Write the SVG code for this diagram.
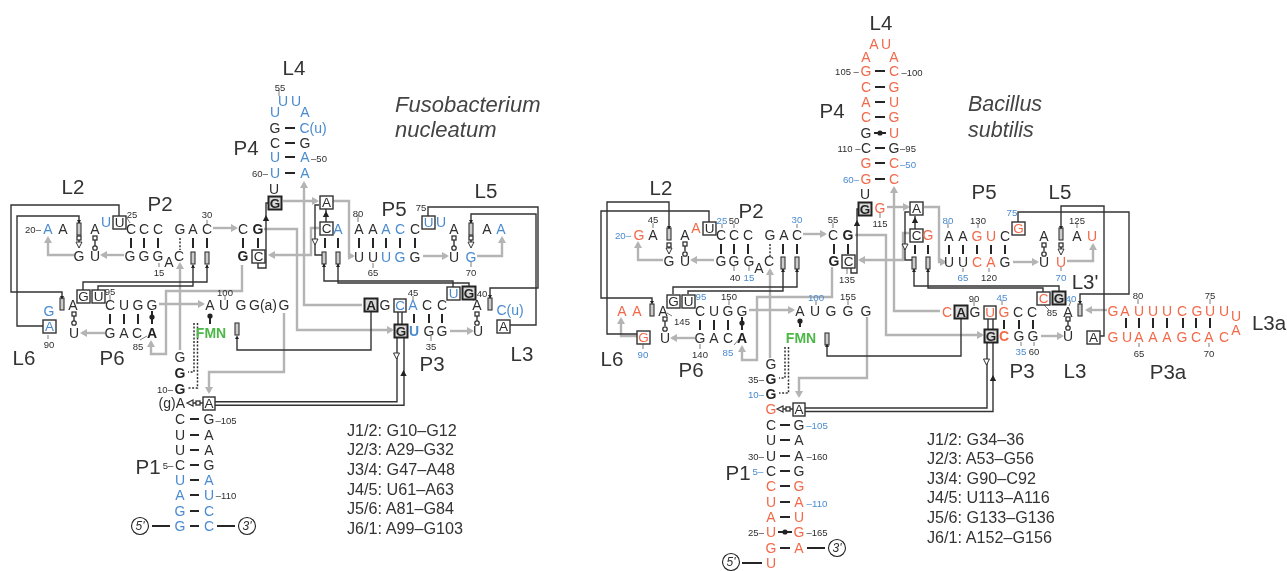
<svg xmlns="http://www.w3.org/2000/svg" width="1287" height="571" viewBox="0 0 1287 571">
<style>
text{font-family:"Liberation Sans",Arial,sans-serif;text-anchor:middle;dominant-baseline:central;fill:#2e2e2e;font-size:14px}
.b{fill:#4a8bd0}.r{fill:#f2694a}.bd{font-weight:bold;fill:#222}
.n{font-size:9.5px}.nb{font-size:9.7px;fill:#4a8bd0}
.L{font-size:20.5px;fill:#333}
.sp{font-size:21.5px;font-style:italic;text-anchor:start;fill:#444}
.j{font-size:16.2px;text-anchor:start;fill:#333}
.f{font-size:14px;font-weight:bold;fill:#4cb848}
.ga{fill:none;stroke:#b4b4b4;stroke-width:2.4;marker-end:url(#ga)}
.k{fill:none;stroke:#333;stroke-width:1.4}
.bp{fill:none;stroke:#262626;stroke-width:2}
.tk{fill:none;stroke:#444;stroke-width:.7}
.dt{fill:none;stroke:#333;stroke-width:1.5;stroke-dasharray:2 1.6}
.bx{fill:#fff;stroke:#333;stroke-width:1.4}
.bb{fill:#d9d9d9;stroke:#222;stroke-width:2}
.bx+text,.bb+text{font-size:13.5px}
.rc{fill:#ccc;stroke:#333;stroke-width:1.1}
.c5{fill:#fff;stroke:#222;stroke-width:1.1}
.c5t{font-size:12px;font-style:italic}
</style>
<defs>
<filter id="soft" filterUnits="userSpaceOnUse" x="0" y="0" width="1287" height="571" color-interpolation-filters="sRGB"><feGaussianBlur stdDeviation="0.3"/></filter>
<marker id="ga" markerUnits="userSpaceOnUse" markerWidth="9" markerHeight="9" refX="5" refY="4" orient="auto"><path d="M0,0L7,4L0,8z" fill="#b4b4b4"/></marker>
<path id="tf" d="M-3.2,3L0,-3L3.2,3z" fill="#222"/>
<path id="to" d="M-3,-3L3,-3L0,3z" fill="#fff" stroke="#333" stroke-width="1"/>
<path id="tl" d="M3,-3L3,3L-3,0z" fill="#fff" stroke="#333" stroke-width="1.2"/>
<path id="sd" d="M-2,-2L2,-2L0,1.6z" fill="#222"/>
<path id="su" d="M-2,2L2,2L0,-1.6z" fill="#222"/>
<rect id="sq" x="-2" y="-2" width="4" height="4" fill="#fff" stroke="#333" stroke-width="1.3"/>
<circle id="ci" r="2.2" fill="#fff" stroke="#333" stroke-width="1.3"/>
<circle id="do" r="2.6" fill="#222"/>
<rect id="bar" x="-2" y="-6" width="4" height="12" class="rc"/>
</defs>
<g filter="url(#soft)">
<rect width="1287" height="571" fill="#fff"/>
<g id="connectors">
<g id="connectors-fusobacterium">
<path class="ga" d="M75,255H48V238"/><path class="ga" d="M124,255H102"/><path class="ga" d="M213,228H236"/><path class="ga" d="M159,304H203"/><path class="ga" d="M105,333H82"/>
<path class="ga" d="M242,265V291H166V354H151V342"/><path class="ga" d="M180,350V264"/><path class="ga" d="M284,313V372H209V392"/>
<path class="ga" d="M283,201H317"/><path class="ga" d="M333,201H349V256H353"/><path class="ga" d="M264,229H297V330H392"/><path class="ga" d="M319,228H311V255H270"/><path class="ga" d="M362,305H304V183"/>
<path class="ga" d="M423,256H447"/><path class="ga" d="M477,256H502V238"/><path class="ga" d="M450,331H472"/>
<path class="k" d="M119,216V205H11V292H62V300"/><path class="k" d="M43,326H17V216H79V223"/><path class="k" d="M83,290V282H207V265"/><path class="k" d="M98,290V286H193V265"/>
<path class="k" d="M258,263V268H266V203H269"/><path class="k" d="M326,222V209"/><path class="k" d="M319,205H315V255H324"/>
<path class="k" d="M324,263V281H453V287"/><path class="k" d="M338,263V283H469V287"/><path class="k" d="M428,216V207H538V288H490V298"/><path class="k" d="M510,325H536V214H471V223"/>
<path class="k" d="M237,337V350H371V312"/><path class="k" d="M215,401.7H397V338"/><path class="k" d="M215,405.3H404V338"/>
<path class="k" d="M398,312V324M402,312V324"/>
<path class="k" d="M203,403H190M79,240V244M95,240V246M454,240V246M471,240V244M477,316V321M74,316V321"/>
<path class="dt" d="M194,323V372H188"/><path class="dt" d="M197.5,323V388H188"/><path class="dt" d="M180,238V250"/>
<path class="bp" d="M131,238V248M144,238V248M158,238V248M193,238V248M207,238V248M243,238V248M258,238V248M325,238V248M338,238V248M359,238V248M373,238V248M386,238V248M400,238V248M415,238V248M414,314V323M429,314V323M442,314V323M110,314V324M124,314V324M138,314V324"/>
<path class="bp" d="M285,128H295M285,143H295M285,157H295M285,173H295M190,419H199"/>
<path class="bp" d="M190,435H199M190,450H199M190,465H199M190,480H199M190,495H199M190,511H199M190,526H199"/>
<path class="bp" d="M152,311V324M210,316V324"/>
<path class="bp" d="M152,526H170M217,526H235"/>
<use href="#do" x="152" y="317"/><use href="#do" x="210" y="316"/>
<use href="#sq" x="79" y="238"/><use href="#to" x="79" y="245"/><use href="#sq" x="95" y="238"/><use href="#ci" x="95" y="248"/>
<use href="#sq" x="454" y="238"/><use href="#ci" x="454" y="248"/><use href="#sq" x="471" y="238"/><use href="#to" x="471" y="245"/>
<use href="#sq" x="477" y="314"/><use href="#ci" x="477" y="323"/><use href="#sq" x="74" y="314"/><use href="#ci" x="74" y="323"/>
<use href="#sq" x="198" y="403"/><use href="#tl" x="190" y="403"/>
<use href="#tf" x="266" y="218"/><use href="#tf" x="326" y="214"/><use href="#to" x="315" y="242"/>
<use href="#to" x="396.5" y="356"/><use href="#tf" x="403.5" y="373"/>
<use href="#bar" x="79" y="229"/><use href="#bar" x="193" y="258"/><use href="#bar" x="207" y="258"/><use href="#bar" x="62" y="304"/><use href="#bar" x="237" y="329"/><use href="#bar" x="324" y="258"/><use href="#bar" x="338" y="258"/><use href="#bar" x="471" y="229"/><use href="#bar" x="490" y="304"/>
<use href="#sd" x="79" y="222"/><use href="#sd" x="62" y="298"/><use href="#su" x="193" y="266"/><use href="#su" x="207" y="266"/><use href="#su" x="237" y="337"/><use href="#su" x="324" y="265"/><use href="#su" x="338" y="265"/><use href="#sd" x="471" y="222"/><use href="#sd" x="490" y="297"/>
</g>
<g id="connectors-bacillus">
<path class="ga" d="M663,260H638V243"/><path class="ga" d="M714,260H692"/><path class="ga" d="M803,234H825"/><path class="ga" d="M749,310H793"/><path class="ga" d="M695,338H672"/><path class="ga" d="M637,336H621V319"/>
<path class="ga" d="M832,267V297H757V360H742V347"/><path class="ga" d="M770,358V270"/><path class="ga" d="M867,317V378H799V396"/>
<path class="ga" d="M887,207H908"/><path class="ga" d="M924,207H939V262H945"/><path class="ga" d="M855,235H886V335H982"/><path class="ga" d="M909,233H903V260H860"/><path class="ga" d="M940,311H894V188"/>
<path class="ga" d="M1013,262H1037"/><path class="ga" d="M1067,261H1093V245"/><path class="ga" d="M1041,336H1062"/><path class="ga" d="M1107,310H1087"/>
<path class="k" d="M709,222V211H601V298H652V303"/><path class="k" d="M637,334H607V202H669V228"/><path class="k" d="M673,294V287H797V268"/><path class="k" d="M688,294V291H783V268"/>
<path class="k" d="M851,268V273H857V209H859"/><path class="k" d="M915,229V216"/><path class="k" d="M909,212H905V260H914"/>
<path class="k" d="M914,268V286H1059V293"/><path class="k" d="M928,268V288H1043V292"/><path class="k" d="M1018,222V212H1129V294H1080V303"/><path class="k" d="M1100,336H1104V206H1061V228"/>
<path class="k" d="M827,344V356H961V318"/><path class="k" d="M805,408H987V343"/><path class="k" d="M805,411.5H993V343"/>
<path class="k" d="M988,318V330M993,318V330"/>
<path class="k" d="M793,409H780M669,245V249M685,245V251M1044,245V251M1061,245V249M1068,321V326M665,321V326"/>
<path class="dt" d="M785,347V378H779"/><path class="dt" d="M788.5,347V393H779"/><path class="dt" d="M770,244V256"/>
<path class="bp" d="M721,244V254M734,244V254M748,244V254M783,244V254M797,244V254M834,244V254M848,244V254M915,245V254M928,245V254M949,245V254M963,245V254M977,245V254M991,245V254M1005,245V254M1004,320V329M1019,320V329M1033,320V329M700,320V330M714,320V330M728,320V330"/>
<path class="bp" d="M875,71H885M875,87H885M875,102H885M875,117H885M875,148H885M875,163H885M875,179H885"/>
<path class="bp" d="M1126,318V328M1139,318V328M1153,318V328M1167,318V328M1183,318V328M1196,318V328M1210,318V328"/>
<path class="bp" d="M780,425H790M780,440H790M780,456H790M780,471H790M780,486H790M780,502H790M780,517H790M780,548H790"/>
<path class="bp" d="M742,563H762M807,548H825M778,532H792M874,133H886M742,317V330M800,321V327"/>
<use href="#do" x="785" y="532"/><use href="#do" x="880" y="133"/><use href="#do" x="742" y="323"/><use href="#do" x="800" y="321"/>
<use href="#sq" x="669" y="245"/><use href="#to" x="669" y="251"/><use href="#sq" x="685" y="244"/><use href="#ci" x="685" y="254"/>
<use href="#sq" x="1044" y="245"/><use href="#ci" x="1044" y="254"/><use href="#sq" x="1061" y="245"/><use href="#to" x="1061" y="252"/>
<use href="#sq" x="1068" y="319"/><use href="#ci" x="1068" y="328"/><use href="#sq" x="665" y="319"/><use href="#ci" x="665" y="329"/>
<use href="#sq" x="788" y="409"/><use href="#tl" x="780" y="409"/>
<use href="#tf" x="857" y="223"/><use href="#tf" x="915" y="220"/><use href="#to" x="905" y="247"/>
<use href="#to" x="986.5" y="362"/><use href="#tf" x="993" y="378"/>
<use href="#bar" x="669" y="234"/><use href="#bar" x="783" y="263"/><use href="#bar" x="797" y="263"/><use href="#bar" x="652" y="310"/><use href="#bar" x="827" y="339"/><use href="#bar" x="914" y="263"/><use href="#bar" x="928" y="263"/><use href="#bar" x="1061" y="234"/><use href="#bar" x="1080" y="310"/>
<use href="#sd" x="669" y="228"/><use href="#sd" x="652" y="303"/><use href="#su" x="783" y="270"/><use href="#su" x="797" y="270"/><use href="#su" x="827" y="345"/><use href="#su" x="914" y="270"/><use href="#su" x="928" y="270"/><use href="#sd" x="1061" y="228"/><use href="#sd" x="1080" y="303"/>
</g>
<path class="tk" d="M48,335V339M279,90V96M358,215V222M373,263V268M471,262V267M413,296V300M431,336V341M469,299L474,300M159,263V267M225,296V300M110,295V300M207,220V224M127,218L130,223M140,340L147,336"/>
<path class="tk" d="M653,223V228M643,344V349M700,344V349M729,300V305M848,300V305M816,301V305M833,223V228M797,224V228M734,224V228M722,224V228M847,268V274M734,266V271M749,266V271M880,213V218M948,223V228M978,223V228M963,268V272M989,268V272M1061,267V271M1077,223V228M1002,300V305M974,301V306M1049,310L1044,305M1021,342V346M1034,342V346M1138,299V304M1210,299V304M1139,343V347M1209,343V347M734,345L740,338M672,316L667,313M1071,301L1069,306"/>
</g>

<g id="structure-fusobacterium">
<g id="nt-l-u25"><rect class="bx" x="113" y="216" width="13" height="13"/><text x="119.5" y="222.5">U</text></g>
<g id="nt-l-g95a"><rect class="bx" x="77" y="290" width="13" height="13"/><text x="83.5" y="296.5">G</text></g>
<g id="nt-l-u95"><rect class="bx" x="92" y="290" width="13" height="13"/><text x="98.5" y="296.5">U</text></g>
<g id="nt-l-a90"><rect class="bx" x="43" y="320" width="13" height="13"/><text class="b" x="49.5" y="326.5">A</text></g>
<g id="nt-l-c54"><rect class="bx" x="252" y="250" width="13" height="13"/><text x="258.5" y="256.5">C</text></g>
<g id="nt-l-g61"><rect class="bb" x="268.5" y="196.5" width="13" height="13"/><text class="bd" x="275" y="203">G</text></g>
<g id="nt-l-a63"><rect class="bx" x="320" y="196" width="13" height="13"/><text x="326.5" y="202.5">A</text></g>
<g id="nt-l-c64"><rect class="bx" x="320" y="222" width="13" height="13"/><text x="326.5" y="228.5">C</text></g>
<g id="nt-l-u75"><rect class="bx" x="422" y="216" width="13" height="13"/><text class="b" x="428.5" y="222.5">U</text></g>
<g id="nt-l-a99"><rect class="bb" x="364.5" y="298.5" width="13" height="13"/><text class="bd" x="371" y="305">A</text></g>
<g id="nt-l-c45"><rect class="bx" x="394" y="299" width="12" height="13"/><text class="b" x="400" y="305.5">C</text></g>
<g id="nt-l-g48"><rect class="bb" x="394.5" y="324.5" width="13" height="13"/><text class="bd" x="401" y="331">G</text></g>
<g id="nt-l-u40"><rect class="bx" x="447" y="287" width="13" height="13"/><text class="b" x="453.5" y="293.5">U</text></g>
<g id="nt-l-g40"><rect class="bb" x="462.5" y="286.5" width="13" height="13"/><text class="bd" x="469" y="293">G</text></g>
<g id="nt-l-a3"><rect class="bx" x="497" y="320" width="13" height="13"/><text x="503.5" y="326.5">A</text></g>
<g id="nt-l-a104"><rect class="bx" x="203" y="397" width="12" height="13"/><text x="209" y="403.5">A</text></g>
<text class="L" x="294" y="67">L4</text><text class="L" x="246" y="147">P4</text><text class="L" x="73" y="186">L2</text><text class="L" x="160" y="203">P2</text><text class="L" x="394" y="208">P5</text><text class="L" x="486" y="190">L5</text><text class="L" x="24" y="357">L6</text><text class="L" x="112" y="357">P6</text><text class="L" x="432" y="363">P3</text><text class="L" x="522" y="353">L3</text><text class="L" x="148" y="466">P1</text>
<text class="sp" x="395" y="104" style="font-size:22px">Fusobacterium</text><text class="sp" x="395" y="129" style="font-size:22px">nucleatum</text>
<text class="n" x="280" y="87">55</text><text class="b" x="283" y="101">U</text><text class="b" x="296" y="101">U</text><text class="b" x="275" y="112">U</text><text class="b" x="305" y="112">A</text>
<text x="275" y="128">G</text><text class="b" x="313" y="128">C(u)</text><text x="275" y="143">C</text><text x="305" y="143">G</text><text class="b" x="275" y="157">U</text><text class="b" x="305" y="157">A</text><text class="n" x="319" y="158">–50</text><text class="n" x="260" y="173">60–</text><text class="b" x="275" y="173">U</text><text class="b" x="305" y="173">A</text><text x="274" y="189">U</text>
<text class="n" x="33" y="229">20–</text><text class="b" x="48" y="229">A</text><text x="63" y="229">A</text><text x="95" y="229">A</text><text class="b" x="106" y="222">U</text><text class="n" x="132" y="214">25</text>
<text x="131" y="229">C</text><text x="144" y="229">C</text><text x="158" y="229">C</text><text x="180" y="229">G</text><text x="193" y="229">A</text><text x="207" y="229">C</text><text class="n" x="207" y="214">30</text><text x="243" y="229">C</text><text class="bd" x="258" y="229">G</text>
<text x="79" y="256">G</text><text x="95" y="256">U</text><text x="130" y="256">G</text><text x="144" y="256">G</text><text x="158" y="256">G</text><text x="169" y="262">A</text><text x="179" y="256">C</text><text class="n" x="159" y="272">15</text><text class="bd" x="243" y="256">G</text>
<text class="n" x="358" y="213">80</text><text x="359" y="229">A</text><text x="373" y="229">A</text><text class="b" x="386" y="229">A</text><text class="b" x="400" y="229">C</text><text x="415" y="229">C</text><text class="b" x="338" y="229">A</text>
<text x="359" y="257">U</text><text x="373" y="257">U</text><text class="b" x="386" y="257">U</text><text class="b" x="400" y="257">G</text><text x="415" y="257">G</text><text class="n" x="373" y="272">65</text>
<text class="n" x="421" y="207">75</text><text class="b" x="441" y="222">U</text><text x="454" y="229">A</text><text x="454" y="257">U</text><text x="487" y="229">A</text><text class="b" x="501" y="229">A</text><text class="b" x="471" y="257">G</text><text class="n" x="471" y="272">70</text>
<text x="73" y="305">A</text><text class="n" x="110" y="291">95</text><text x="110" y="305">C</text><text x="124" y="305">U</text><text x="138" y="305">G</text><text x="152" y="305">G</text><text x="210" y="305">A</text><text x="224" y="305">U</text><text class="n" x="225" y="292">100</text><text x="241" y="305">G</text><text x="263" y="305">G(a)</text><text x="284" y="305">G</text>
<text x="385" y="305">G</text><text class="b" x="413" y="305">A</text><text class="n" x="413" y="292">45</text><text x="427" y="305">C</text><text x="442" y="305">C</text><text class="n" x="482" y="293">40</text><text x="477" y="305">A</text><text class="b" x="510" y="310">C(u)</text>
<text class="b" x="49" y="311">G</text><text class="n" x="49" y="344">90</text><text x="74" y="333">U</text><text x="110" y="333">G</text><text x="124" y="333">A</text><text x="137" y="333">C</text><text class="bd" x="152" y="333">A</text><text class="n" x="138" y="346">85</text><text class="f" x="211" y="333">FMN</text>
<text class="bd" style="fill:#4a8bd0" x="414" y="331">U</text><text x="429" y="331">G</text><text x="442" y="331">G</text><text x="478" y="331">U</text><text class="n" x="431" y="346">35</text>
<text x="180" y="357">G</text><text class="bd" x="180" y="373">G</text><text class="n" x="165" y="389">10–</text><text class="bd" x="180" y="389">G</text><text style="text-anchor:end" x="185" y="403">(g)A</text>
<text x="180" y="419">C</text><text x="209" y="419">G</text><text class="n" x="226" y="420">–105</text><text x="180" y="435">U</text><text x="209" y="435">A</text><text x="180" y="450">U</text><text x="209" y="450">A</text><text class="n" x="168" y="465">5–</text><text x="180" y="465">C</text><text x="209" y="465">G</text>
<text class="b" x="180" y="480">U</text><text class="b" x="209" y="480">A</text><text class="b" x="180" y="495">A</text><text class="b" x="209" y="495">U</text><text class="n" x="226" y="495">–110</text><text class="b" x="180" y="511">G</text><text class="b" x="209" y="511">C</text><text class="b" x="180" y="526">G</text><text class="b" x="209" y="526">C</text>
<g id="end-l-5"><circle class="c5" cx="140" cy="526" r="8.5"/><text class="c5t" x="140" y="526">5'</text></g>
<g id="end-l-3"><circle class="c5" cx="247" cy="526" r="8.5"/><text class="c5t" x="247" y="526">3'</text></g>
<text class="j" x="347" y="430">J1/2: G10–G12</text><text class="j" x="347" y="449">J2/3: A29–G32</text><text class="j" x="347" y="469">J3/4: G47–A48</text><text class="j" x="347" y="489">J4/5: U61–A63</text><text class="j" x="347" y="508">J5/6: A81–G84</text><text class="j" x="347" y="528">J6/1: A99–G103</text>
</g>

<g id="structure-bacillus">
<g id="nt-r-u25"><rect class="bx" x="703" y="222" width="13" height="13"/><text x="709.5" y="228.5">U</text></g>
<g id="nt-r-g"><rect class="bx" x="667" y="295" width="13" height="13"/><text x="673.5" y="301.5">G</text></g>
<g id="nt-r-u95"><rect class="bx" x="682" y="295" width="13" height="13"/><text x="688.5" y="301.5">U</text></g>
<g id="nt-r-g90"><rect class="bx" x="637" y="331" width="13" height="13"/><text class="r" x="643.5" y="337.5">G</text></g>
<g id="nt-r-c135"><rect class="bx" x="842" y="255" width="13" height="13"/><text x="848.5" y="261.5">C</text></g>
<g id="nt-r-g113"><rect class="bb" x="858.5" y="202.5" width="13" height="13"/><text class="bd" x="865" y="209">G</text></g>
<g id="nt-r-a"><rect class="bx" x="910" y="202" width="13" height="13"/><text x="916.5" y="208.5">A</text></g>
<g id="nt-r-c"><rect class="bx" x="910" y="229" width="13" height="13"/><text x="916.5" y="235.5">C</text></g>
<g id="nt-r-g75"><rect class="bx" x="1012" y="222" width="13" height="13"/><text class="r" x="1018.5" y="228.5">G</text></g>
<g id="nt-r-a152"><rect class="bb" x="954.5" y="305.5" width="13" height="13"/><text class="bd" x="961" y="312">A</text></g>
<g id="nt-r-u91"><rect class="bx" x="984" y="306" width="12" height="13"/><text class="r" x="990" y="312.5">U</text></g>
<g id="nt-r-g92"><rect class="bb" x="984.5" y="329.5" width="13" height="13"/><text class="bd" x="991" y="336">G</text></g>
<g id="nt-r-c85"><rect class="bx" x="1037" y="292" width="13" height="13"/><text class="r" x="1043.5" y="298.5">C</text></g>
<g id="nt-r-g40"><rect class="bb" x="1052.5" y="291.5" width="13" height="13"/><text class="bd" x="1059" y="298">G</text></g>
<g id="nt-r-a3"><rect class="bx" x="1087" y="331" width="13" height="13"/><text x="1093.5" y="337.5">A</text></g>
<g id="nt-r-a157"><rect class="bx" x="793" y="403" width="12" height="13"/><text x="799" y="409.5">A</text></g>
<text class="L" x="881" y="22">L4</text><text class="L" x="832" y="110">P4</text><text class="L" x="661" y="187">L2</text><text class="L" x="751" y="210">P2</text><text class="L" x="984" y="191">P5</text><text class="L" x="1060" y="191">L5</text><text class="L" x="1085" y="281">L3'</text><text class="L" x="612" y="358">L6</text><text class="L" x="691" y="369">P6</text><text class="L" x="1022" y="370">P3</text><text class="L" x="1075" y="370">L3</text><text class="L" x="1168" y="371">P3a</text><text class="L" x="1269" y="322">L3a</text><text class="L" x="738" y="472">P1</text>
<text class="sp" x="968" y="104">Bacillus</text><text class="sp" x="968" y="130">subtilis</text>
<text class="r" x="874" y="44">A</text><text class="r" x="886" y="44">U</text><text class="r" x="866" y="57">A</text><text class="r" x="894" y="57">A</text>
<text class="n" x="847" y="71">105 –</text><text class="r" x="866" y="71">G</text><text class="r" x="894" y="71">C</text><text class="n" x="912" y="72">–100</text>
<text class="r" x="866" y="87">C</text><text class="r" x="894" y="87">G</text><text class="r" x="866" y="102">A</text><text class="r" x="894" y="102">U</text><text class="r" x="866" y="117">C</text><text class="r" x="894" y="117">G</text>
<text x="866" y="133">G</text><text class="r" x="894" y="133">U</text><text class="n" x="849" y="148">110 –</text><text x="866" y="148">C</text><text x="894" y="148">G</text><text class="n" x="908" y="148">–95</text>
<text class="r" x="866" y="163">G</text><text class="r" x="894" y="163">C</text><text class="nb" x="908" y="164">–50</text><text class="nb" x="851" y="179">60–</text><text class="r" x="866" y="179">G</text><text class="r" x="894" y="179">C</text><text x="865" y="194">U</text>
<text class="r" x="880" y="208">G</text><text class="n" x="880" y="223">115</text>
<text class="nb" x="623" y="235">20–</text><text class="r" x="639" y="235">G</text><text class="n" x="653" y="219">45</text><text x="653" y="235">A</text><text x="685" y="235">A</text><text class="r" x="696" y="228">A</text><text class="nb" x="722" y="220">25</text><text class="n" x="734" y="220">50</text>
<text x="721" y="235">C</text><text x="734" y="235">C</text><text x="748" y="235">C</text><text x="770" y="235">G</text><text x="784" y="235">A</text><text x="797" y="235">C</text><text class="nb" x="797" y="219">30</text><text x="833" y="235">C</text><text class="n" x="833" y="219">55</text><text class="bd" x="848" y="235">G</text>
<text x="669" y="261">G</text><text x="685" y="261">U</text><text x="721" y="261">G</text><text x="734" y="261">G</text><text x="749" y="261">G</text><text x="759" y="268">A</text><text x="769" y="261">C</text><text class="bd" x="834" y="261">G</text><text class="n" x="847" y="279">135</text><text class="n" x="735" y="277">40</text><text class="nb" x="749" y="277">15</text>
<text class="r" x="928" y="235">G</text><text class="nb" x="948" y="220">80</text><text class="n" x="978" y="220">130</text><text x="949" y="236">A</text><text x="963" y="236">A</text><text class="r" x="977" y="236">G</text><text class="r" x="991" y="236">U</text><text x="1005" y="236">C</text>
<text x="949" y="262">U</text><text x="963" y="262">U</text><text class="r" x="977" y="262">C</text><text class="r" x="991" y="262">A</text><text x="1005" y="262">G</text><text class="nb" x="963" y="277">65</text><text class="n" x="989" y="277">120</text>
<text class="nb" x="1012" y="212">75</text><text x="1044" y="236">A</text><text x="1044" y="262">U</text><text class="n" x="1077" y="220">125</text><text x="1077" y="236">A</text><text class="r" x="1092" y="236">U</text><text class="r" x="1061" y="262">U</text><text class="nb" x="1061" y="277">70</text>
<text class="r" x="622" y="311">A</text><text class="r" x="637" y="311">A</text><text x="663" y="311">A</text><text class="n" x="682" y="321">145</text><text class="nb" x="701" y="296">95</text><text x="700" y="311">C</text><text x="714" y="311">U</text><text x="728" y="311">G</text><text x="742" y="311">G</text><text class="n" x="729" y="296">150</text>
<text x="800" y="311">A</text><text x="815" y="311">U</text><text x="831" y="311">G</text><text x="848" y="311">G</text><text x="866" y="311">G</text><text class="nb" x="816" y="297">100</text><text class="n" x="848" y="296">155</text>
<text class="nb" x="643" y="354">90</text><text x="665" y="338">U</text><text x="700" y="338">G</text><text x="714" y="338">A</text><text x="728" y="338">C</text><text class="bd" x="742" y="338">A</text><text class="f" x="801" y="338">FMN</text><text class="n" x="700" y="354">140</text><text class="nb" x="728" y="352">85</text>
<text class="r" x="947" y="312">C</text><text x="975" y="312">G</text><text class="n" x="974" y="298">90</text><text class="r" x="1004" y="312">G</text><text class="nb" x="1002" y="297">45</text><text x="1018" y="312">C</text><text x="1032" y="312">C</text><text class="n" x="1052" y="312">85</text><text class="nb" x="1071" y="298">40</text><text x="1068" y="312">A</text>
<text class="bd" style="fill:#f2694a" x="1004" y="336">C</text><text x="1019" y="336">G</text><text x="1033" y="336">G</text><text x="1068" y="336">U</text><text class="nb" x="1021" y="351">35</text><text class="n" x="1034" y="351">60</text>
<text class="r" x="1113" y="311">G</text><text class="r" x="1125" y="311">A</text><text class="r" x="1139" y="311">U</text><text class="r" x="1153" y="311">U</text><text class="r" x="1167" y="311">U</text><text class="r" x="1182" y="311">C</text><text class="r" x="1197" y="311">G</text><text class="r" x="1210" y="311">U</text><text class="r" x="1224" y="311">U</text><text class="r" x="1236" y="316">U</text><text class="r" x="1236" y="330">A</text>
<text class="r" x="1113" y="337">G</text><text class="r" x="1127" y="337">U</text><text class="r" x="1139" y="337">A</text><text class="r" x="1153" y="337">A</text><text class="r" x="1167" y="337">A</text><text class="r" x="1182" y="337">G</text><text class="r" x="1196" y="337">C</text><text class="r" x="1209" y="337">A</text><text class="r" x="1224" y="337">C</text>
<text class="n" x="1138" y="295">80</text><text class="n" x="1210" y="295">75</text><text class="n" x="1139" y="353">65</text><text class="n" x="1209" y="353">70</text>
<text x="771" y="364">G</text><text class="n" x="756" y="379">35–</text><text class="bd" x="771" y="379">G</text><text class="nb" x="756" y="394">10–</text><text class="bd" x="771" y="394">G</text><text class="r" x="771" y="409">G</text>
<text x="771" y="425">C</text><text x="799" y="425">G</text><text class="nb" x="817" y="425">–105</text><text x="771" y="440">U</text><text x="799" y="440">A</text><text class="n" x="756" y="456">30–</text><text x="771" y="456">U</text><text x="799" y="456">A</text><text class="n" x="817" y="456">–160</text>
<text class="nb" x="758" y="471">5–</text><text x="771" y="471">C</text><text x="799" y="471">G</text><text class="r" x="771" y="486">C</text><text class="r" x="799" y="486">G</text><text class="r" x="771" y="502">U</text><text class="r" x="799" y="502">A</text><text class="nb" x="817" y="503">–110</text>
<text class="r" x="771" y="517">A</text><text class="r" x="799" y="517">U</text><text class="n" x="756" y="532">25–</text><text class="r" x="771" y="532">U</text><text class="r" x="799" y="532">G</text><text class="n" x="817" y="532">–165</text><text class="r" x="771" y="548">G</text><text class="r" x="799" y="548">A</text><text class="r" x="771" y="563">U</text>
<g id="end-r-3"><circle class="c5" cx="837" cy="548" r="8.5"/><text class="c5t" x="837" y="548">3'</text></g>
<g id="end-r-5"><circle class="c5" cx="731" cy="562" r="8.5"/><text class="c5t" x="731" y="562">5'</text></g>
<text class="j" x="927" y="439">J1/2: G34–36</text><text class="j" x="927" y="458">J2/3: A53–G56</text><text class="j" x="927" y="478">J3/4: G90–C92</text><text class="j" x="927" y="497">J4/5: U113–A116</text><text class="j" x="927" y="517">J5/6: G133–G136</text><text class="j" x="927" y="537">J6/1: A152–G156</text>
</g>
</g>
</svg>
